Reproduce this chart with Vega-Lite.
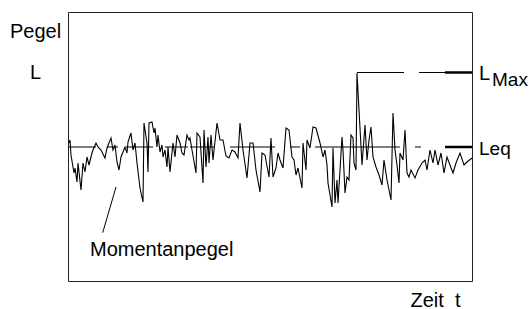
{
  "$schema": "https://vega.github.io/schema/vega-lite/v6.json",
  "width": 404,
  "height": 269,
  "autosize": {"type": "none"},
  "padding": {"left": 68, "top": 12, "right": 57, "bottom": 28},
  "background": "white",
  "config": {
    "view": {"stroke": "#222", "strokeWidth": 1},
    "font": "Liberation Sans"
  },
  "datasets": {
    "signal": [
      {"t":1,"L":138},{"t":2,"L":141},{"t":3,"L":126},{"t":6,"L":108},{"t":7,"L":113},{"t":9,"L":99},{"t":10,"L":118},{"t":13,"L":91},{"t":15,"L":118},{"t":17,"L":109},{"t":19,"L":124},{"t":21,"L":116},{"t":24,"L":128},{"t":25,"L":131},{"t":28,"L":138},{"t":30,"L":134},{"t":33,"L":131},{"t":37,"L":123},{"t":39,"L":133},{"t":41,"L":138},{"t":43,"L":143},{"t":45,"L":131},{"t":47,"L":136},{"t":49,"L":119},{"t":51,"L":111},{"t":53,"L":124},{"t":57,"L":134},{"t":59,"L":128},{"t":60,"L":139},{"t":63,"L":148},{"t":65,"L":131},{"t":67,"L":138},{"t":69,"L":118},{"t":72,"L":93},{"t":75,"L":79},{"t":76,"L":158},{"t":79,"L":138},{"t":80,"L":109},{"t":81,"L":158},{"t":84,"L":159},{"t":86,"L":148},{"t":87,"L":153},{"t":89,"L":134},{"t":90,"L":146},{"t":92,"L":129},{"t":94,"L":136},{"t":95,"L":124},{"t":97,"L":131},{"t":99,"L":114},{"t":100,"L":134},{"t":102,"L":109},{"t":105,"L":138},{"t":107,"L":124},{"t":109,"L":146},{"t":112,"L":138},{"t":114,"L":128},{"t":116,"L":126},{"t":119,"L":146},{"t":121,"L":141},{"t":122,"L":143},{"t":124,"L":131},{"t":128,"L":108},{"t":129,"L":148},{"t":132,"L":144},{"t":135,"L":98},{"t":136,"L":151},{"t":138,"L":114},{"t":140,"L":144},{"t":141,"L":118},{"t":143,"L":146},{"t":145,"L":121},{"t":149,"L":158},{"t":152,"L":141},{"t":155,"L":141},{"t":158,"L":125},{"t":161,"L":123},{"t":164,"L":131},{"t":167,"L":129},{"t":170,"L":123},{"t":172,"L":158},{"t":175,"L":131},{"t":179,"L":103},{"t":182,"L":138},{"t":185,"L":138},{"t":188,"L":111},{"t":192,"L":89},{"t":194,"L":128},{"t":197,"L":126},{"t":201,"L":104},{"t":203,"L":143},{"t":205,"L":104},{"t":208,"L":113},{"t":210,"L":128},{"t":212,"L":121},{"t":215,"L":113},{"t":218,"L":153},{"t":221,"L":151},{"t":224,"L":124},{"t":226,"L":121},{"t":228,"L":106},{"t":230,"L":113},{"t":234,"L":93},{"t":235,"L":138},{"t":238,"L":111},{"t":239,"L":141},{"t":242,"L":133},{"t":245,"L":154},{"t":248,"L":153},{"t":252,"L":138},{"t":255,"L":124},{"t":257,"L":131},{"t":259,"L":116},{"t":260,"L":98},{"t":264,"L":74},{"t":265,"L":133},{"t":267,"L":78},{"t":269,"L":101},{"t":270,"L":78},{"t":274,"L":144},{"t":275,"L":131},{"t":277,"L":88},{"t":279,"L":104},{"t":281,"L":101},{"t":283,"L":146},{"t":285,"L":143},{"t":286,"L":118},{"t":288,"L":111},{"t":289,"L":208},{"t":294,"L":116},{"t":297,"L":156},{"t":299,"L":121},{"t":301,"L":141},{"t":303,"L":154},{"t":305,"L":124},{"t":308,"L":114},{"t":311,"L":106},{"t":314,"L":96},{"t":316,"L":121},{"t":319,"L":101},{"t":323,"L":81},{"t":325,"L":168},{"t":327,"L":131},{"t":329,"L":116},{"t":331,"L":98},{"t":332,"L":128},{"t":335,"L":121},{"t":337,"L":151},{"t":339,"L":108},{"t":341,"L":104},{"t":343,"L":111},{"t":347,"L":103},{"t":350,"L":111},{"t":354,"L":118},{"t":357,"L":121},{"t":359,"L":111},{"t":362,"L":131},{"t":365,"L":118},{"t":367,"L":131},{"t":370,"L":116},{"t":373,"L":128},{"t":376,"L":108},{"t":379,"L":124},{"t":382,"L":116},{"t":385,"L":108},{"t":388,"L":118},{"t":392,"L":128},{"t":396,"L":116},{"t":399,"L":119},{"t":404,"L":123}
    ],
    "refs": [
      {"line":"Leq","part":"dash","start":0,"end":28,"L":134},
      {"line":"Leq","part":"dash","start":39,"end":50,"L":134},
      {"line":"Leq","part":"dash","start":58,"end":85,"L":134},
      {"line":"Leq","part":"dash","start":97,"end":120,"L":134},
      {"line":"Leq","part":"dash","start":122,"end":147,"L":134},
      {"line":"Leq","part":"dash","start":162,"end":207,"L":134},
      {"line":"Leq","part":"dash","start":222,"end":232,"L":134},
      {"line":"Leq","part":"dash","start":247,"end":332,"L":134},
      {"line":"Leq","part":"dash","start":347,"end":353,"L":134},
      {"line":"Leq","part":"end","start":377,"end":404,"L":134},
      {"line":"LMax","part":"dash","start":289,"end":336,"L":208.5},
      {"line":"LMax","part":"dash","start":351,"end":377,"L":208.5},
      {"line":"LMax","part":"end","start":377,"end":404,"L":208.5}
    ],
    "leader": [{"t1":48,"L1":94,"t2":34.7,"L2":48.3}],
    "labels": [
      {"text":"Momentanpegel","t":22,"L":25},
      {"text":"L","t":411,"L":201}
    ],
    "labelsSmall": [
      {"text":"Max","t":424,"L":195},
      {"text":"Leq","t":411,"L":126}
    ]
  },
  "encoding": {
    "x": {
      "type": "quantitative",
      "scale": {"domain": [0, 404], "nice": false, "zero": false},
      "axis": {
        "domain": false, "ticks": false, "labels": false, "grid": false,
        "title": "Zeit\u00a0\u00a0t",
        "titleFont": "Liberation Sans", "titleFontSize": 20, "titleFontWeight": "normal", "titleColor": "#000",
        "titleX": 367, "titleY": 25, "titleAlign": "center", "titleBaseline": "alphabetic"
      }
    },
    "y": {
      "type": "quantitative",
      "scale": {"domain": [0, 269], "nice": false, "zero": false},
      "axis": {
        "domain": false, "ticks": false, "labels": false, "grid": false,
        "title": ["Pegel", "L"],
        "titleFont": "Liberation Sans", "titleFontSize": 20, "titleFontWeight": "normal", "titleColor": "#000",
        "titleAngle": 0, "titleX": -33, "titleY": 25, "titleAlign": "center", "titleBaseline": "alphabetic",
        "titleLineHeight": 41
      }
    }
  },
  "layer": [
    {
      "data": {"name": "refs"},
      "mark": {"type": "rule", "color": "#000"},
      "encoding": {
        "x": {"field": "start", "type": "quantitative"},
        "x2": {"field": "end"},
        "y": {"field": "L", "type": "quantitative"},
        "strokeWidth": {"field": "part", "type": "nominal", "scale": {"domain": ["dash", "end"], "range": [1, 2.5]}, "legend": null}
      }
    },
    {
      "data": {"name": "signal"},
      "mark": {"type": "line", "color": "#000", "strokeWidth": 1.1},
      "encoding": {
        "x": {"field": "t", "type": "quantitative"},
        "y": {"field": "L", "type": "quantitative"}
      }
    },
    {
      "data": {"name": "leader"},
      "mark": {"type": "rule", "color": "#000", "strokeWidth": 1},
      "encoding": {
        "x": {"field": "t1", "type": "quantitative"},
        "y": {"field": "L1", "type": "quantitative"},
        "x2": {"field": "t2"},
        "y2": {"field": "L2"}
      }
    },
    {
      "data": {"name": "labels"},
      "mark": {"type": "text", "align": "left", "baseline": "alphabetic", "fontSize": 20, "font": "Liberation Sans", "color": "#000"},
      "encoding": {
        "x": {"field": "t", "type": "quantitative"},
        "y": {"field": "L", "type": "quantitative"},
        "text": {"field": "text"}
      }
    },
    {
      "data": {"name": "labelsSmall"},
      "mark": {"type": "text", "align": "left", "baseline": "alphabetic", "fontSize": 19, "font": "Liberation Sans", "color": "#000"},
      "encoding": {
        "x": {"field": "t", "type": "quantitative"},
        "y": {"field": "L", "type": "quantitative"},
        "text": {"field": "text"}
      }
    }
  ]
}
